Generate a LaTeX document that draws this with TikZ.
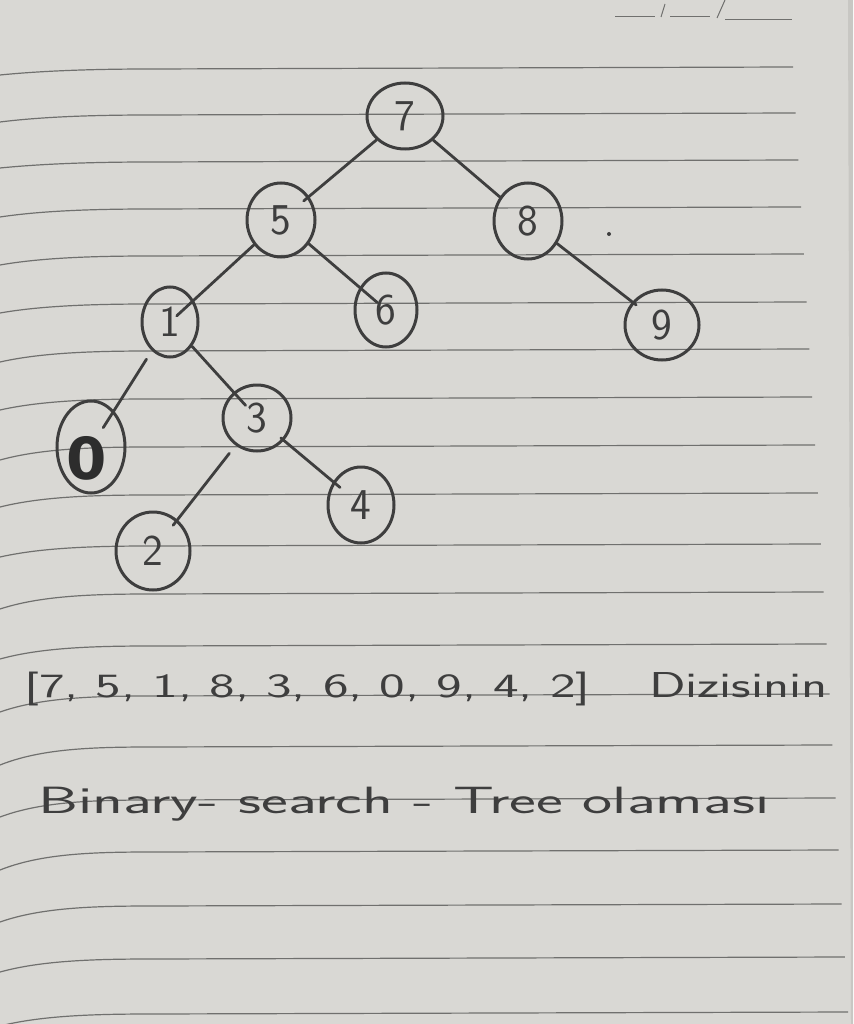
\documentclass[tikz,border=0pt]{standalone}
\usepackage{graphicx}
\usepackage{fontspec}
\newfontfamily\zerofont{DejaVu Sans}
\usetikzlibrary{shapes.geometric}
\definecolor{paper}{RGB}{217,216,212}
\definecolor{ruleclr}{RGB}{112,112,110}
\definecolor{pencil}{RGB}{62,62,62}
\definecolor{pencildark}{RGB}{45,45,45}
\tikzset{
 bstnode/.style={ellipse, draw=pencil, line width=3pt, inner sep=0pt, text=pencil,
   font=\sffamily\fontsize{44}{44}\selectfont},
 pedge/.style={draw=pencil, line width=2.8pt, line cap=round},
 ruleline/.style={draw=ruleclr, line width=1.2pt},
 hand/.style={text=pencil, inner sep=0pt, anchor=base west},
}
\begin{document}
\begin{tikzpicture}[x=1pt,y=-1pt]
\fill[paper] (0,0) rectangle (853,1024);
\useasboundingbox (0,0) rectangle (853,1024);
\fill[paper!92!black] (848,0) -- (853,0) -- (853,1024) -- (851,1024) -- cycle;
% ruled lines
\foreach \yl/\yr in {75/67,122/113,168/160,217/207,265/254,313/302,362/349,410/397,460/445,507/493,557/544,609/592,659/644,712/694,765/745,817/798,870/850,922/904,972/957,1026/1012} {
  \pgfmathsetmacro{\xe}{793+(\yr-67)/945*55}
  \draw[ruleline] (0,\yl) .. controls (40,\yr+4) and (90,\yr+2) .. (150,\yr+2) -- (\xe,\yr);
}
% date marks
\draw[ruleline, line width=1pt] (615,17) -- (655,17) (670,17) -- (710,17) (725,20) -- (792,20);
\draw[ruleline, line width=1pt] (665,4) -- (661,17) (725,0) -- (717,18);
% tree nodes
\node[bstnode, minimum width=76pt, minimum height=66pt] (n7) at (405,116) {7};
\node[bstnode, minimum width=68pt, minimum height=74pt] (n5) at (281,220) {5};
\node[bstnode, minimum width=68pt, minimum height=76pt] (n8) at (528,221) {8};
\node[bstnode, minimum width=56pt, minimum height=70pt] (n1) at (170,322) {1};
\node[bstnode, minimum width=62pt, minimum height=74pt] (n6) at (386,310) {6};
\node[bstnode, minimum width=74pt, minimum height=70pt] (n9) at (662,325) {9};
\node[bstnode, minimum width=68pt, minimum height=92pt] (n0) at (91,447) {};
\node[text=pencildark, inner sep=0pt, font=\zerofont\bfseries\fontsize{58}{58}\selectfont] (n0t) at (87,458) {0};
\node[bstnode, minimum width=68pt, minimum height=66pt] (n3) at (257,418) {3};
\node[bstnode, minimum width=66pt, minimum height=76pt] (n4) at (361,505) {4};
\node[bstnode, minimum width=74pt, minimum height=78pt] (n2) at (153,551) {2};
% edges
\draw[pedge, shorten >=-7pt] (n7) -- (n5);
\draw[pedge] (n7) -- (n8);
\draw[pedge, shorten >=-23pt] (n5) -- (n1);
\draw[pedge, shorten >=-23pt] (n5) -- (n6);
\draw[pedge, shorten >=-5pt] (n8) -- (n9);
\draw[pedge, shorten <=10pt, shorten >=-20pt] (n1) -- (n0);
\draw[pedge, shorten >=-18pt] (n1) -- (n3);
\draw[pedge, shorten <=10pt, shorten >=-7pt] (n3) -- (n2);
\draw[pedge, shorten <=-4pt, shorten >=-9pt] (n3) -- (n4);
\fill[pencil] (609,234) circle (2pt);
% handwriting
\node[hand, font=\sffamily\fontsize{34}{34}\selectfont] (arr) at (24,697) {\scalebox{1.6}[1]{[7, 5, 1, 8, 3, 6, 0, 9, 4, 2]}};
\node[hand, font=\sffamily\fontsize{36}{36}\selectfont] (dz) at (649,697) {\scalebox{1.5}[1]{Dizisinin}};
\node[hand, font=\sffamily\fontsize{38}{38}\selectfont] (bst) at (38,813) {\scalebox{1.68}[1]{Binary- search - Tree olaması}};
\end{tikzpicture}
\end{document}
